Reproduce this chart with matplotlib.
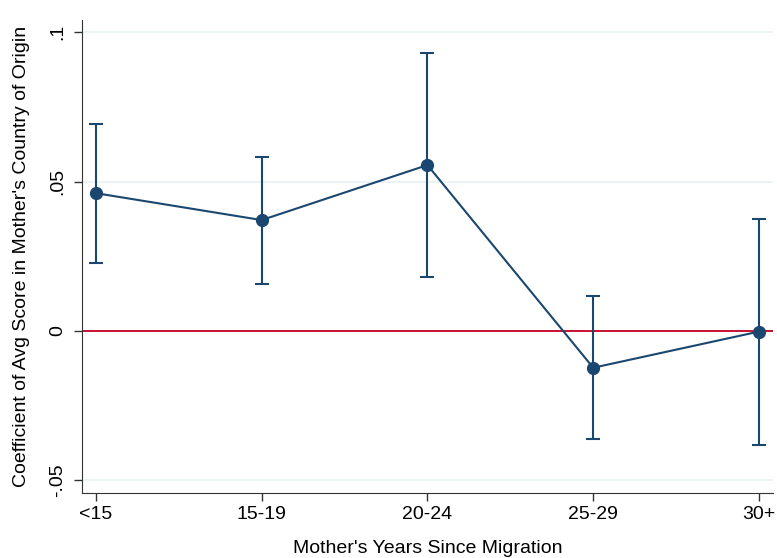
import matplotlib.pyplot as plt
from matplotlib.ticker import FixedLocator, FixedFormatter

plt.rcParams['font.family'] = ['Liberation Sans', 'DejaVu Sans']

# data
groups = ['<15', '15-19', '20-24', '25-29', '30+']
coef = [0.0461, 0.0371, 0.0555, -0.0123, -0.0002]
ci_low = [0.0228, 0.0158, 0.0180, -0.0362, -0.0381]
ci_high = [0.0692, 0.0583, 0.0931, 0.0118, 0.0375]

yticks = [-0.05, 0, 0.05, 0.1]
ytick_labels = ['-.05', '0', '.05', '.1']

navy = '#1a476f'
red = '#c8102e'

fig = plt.figure(figsize=(7.77, 5.58), dpi=100)
ax = fig.add_axes([0.105, 0.1165, 0.89, 0.8475])

x = list(range(len(groups)))
err_lo = [c - l for c, l in zip(coef, ci_low)]
err_hi = [h - c for c, h in zip(coef, ci_high)]

# light grid lines like stata's s2color scheme
for yt in yticks:
    if yt != 0:
        ax.axhline(yt, color='#eaf2f3', lw=1.3, zorder=0)
ax.axhline(0, color=red, lw=1.4, zorder=1)

ax.errorbar(x, coef, yerr=[err_lo, err_hi], fmt='none', ecolor=navy,
            elinewidth=1.5, capsize=5, capthick=1.5, zorder=2)
ax.plot(x, coef, color=navy, lw=1.5, marker='o', markersize=8.5, zorder=3)

ax.set_xlim(-0.086, 4.085)
ax.set_ylim(-0.0542, 0.104)
ax.set_xticks(x)
ax.set_xticklabels(groups)
ax.yaxis.set_major_locator(FixedLocator(yticks))
ax.yaxis.set_major_formatter(FixedFormatter(ytick_labels))
ax.tick_params(axis='both', labelsize=14, length=6, width=1, color='#333333')
ax.tick_params(axis='y', labelrotation=90, pad=5)
for lab in ax.get_yticklabels():
    lab.set_va('center')

ax.spines['top'].set_visible(False)
ax.spines['right'].set_visible(False)
ax.spines['left'].set_color('#333333')
ax.spines['bottom'].set_color('#333333')

ax.set_xlabel("Mother's Years Since Migration", fontsize=14, labelpad=12)
ax.set_ylabel("Coefficient of Avg Score in Mother's Country of Origin", fontsize=14, labelpad=14)

fig.savefig('out.png', dpi=100)
